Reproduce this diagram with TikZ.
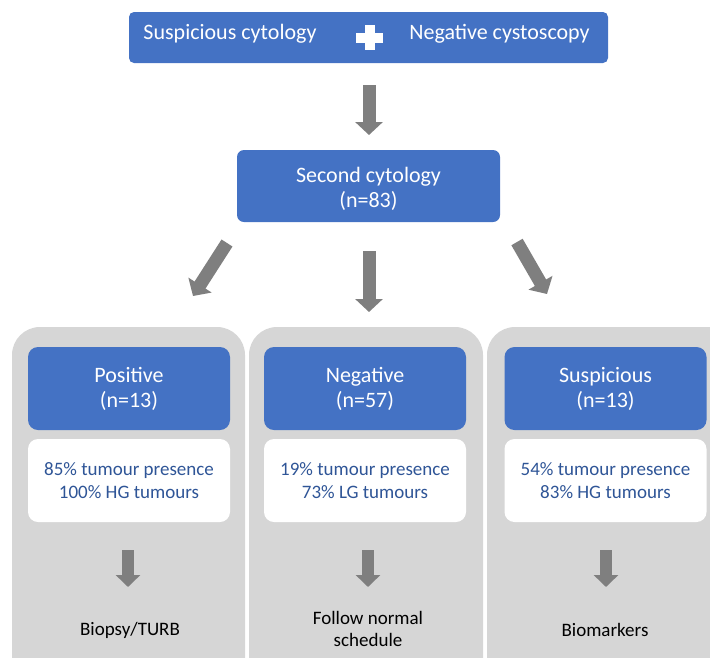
\documentclass[tikz,border=0pt]{standalone}
\usepackage{fontspec}
\setmainfont{Carlito}
\usetikzlibrary{arrows.meta}
\definecolor{boxblue}{HTML}{4472C4}
\definecolor{textblue}{HTML}{2F5597}
\definecolor{panelgray}{HTML}{D6D6D6}
\definecolor{arrowgray}{HTML}{7F7F7F}
\tikzset{
  bluebox/.style={fill=boxblue, draw=none, text=white, align=center,
    font=\fontsize{22}{25}\selectfont},
  infobox/.style={fill=white, draw=none, text=textblue, align=center,
    rounded corners=10pt, minimum width=202pt, minimum height=83pt,
    font=\fontsize{19}{23}\selectfont},
  headbox/.style={bluebox, rounded corners=10pt, minimum width=202pt, minimum height=83pt},
  panel/.style={fill=panelgray, draw=none, rounded corners=28pt},
  outcome/.style={text=black, align=center, font=\fontsize{19}{22}\selectfont},
  bigarrow/.style={draw=arrowgray, line width=13pt,
    -{Triangle[width=27pt,length=13pt,fill=arrowgray]}},
  smallarrow/.style={draw=arrowgray, line width=12pt,
    -{Triangle[width=24pt,length=12pt,fill=arrowgray]}}
}
\begin{document}
\begin{tikzpicture}[x=1pt,y=-1pt]
\useasboundingbox (0,0) rectangle (710,657);

% grey panels, running off the lower and right edges
\begin{scope}
  \clip (0,0) rectangle (710,657);
  \fill[panel] (12,327) rectangle (245,700);
  \fill[panel] (249,327) rectangle (483,700);
  \fill[panel] (487,327) rectangle (740,700);
\end{scope}

% top condition box
\node[bluebox, rounded corners=5pt, minimum width=479pt, minimum height=51pt]
  (top) at (368.5,37.5) {};
\node[text=white, font=\fontsize{22}{25}\selectfont] (tl) at (230,34) {Suspicious cytology};
\node[text=white, font=\fontsize{22}{25}\selectfont] (tr) at (499.5,34) {Negative cystoscopy};
\fill[white] (364.5,25) rectangle (374.5,50);
\fill[white] (356,32.5) rectangle (383,42.5);

% second cytology
\node[bluebox, rounded corners=7pt, minimum width=263pt, minimum height=72pt]
  (second) at (368.5,186) {};
\node[bluebox, fill=none] (secondtext) at (368.5,189) {Second cytology\\(n=83)};

% result headers
\node[headbox] (pos) at (129,388.5) {Positive\\(n=13)};
\node[headbox] (neg) at (365,388.5) {Negative\\(n=57)};
\node[headbox] (sus) at (605.5,388.5) {Suspicious\\(n=13)};

% findings
\node[infobox] (posinfo) at (129,480.5) {85\% tumour presence\\100\% HG tumours};
\node[infobox] (neginfo) at (365,480.5) {19\% tumour presence\\73\% LG tumours};
\node[infobox] (susinfo) at (605.5,480.5) {54\% tumour presence\\83\% HG tumours};

% actions
\node[outcome] (posact) at (130,630) {Biopsy/TURB};
\node[outcome] (negact) at (368,629) {Follow normal\\schedule};
\node[outcome] (susact) at (605,630) {Biomarkers};

% arrow end points
\coordinate (a0s) at (369,85);  \coordinate (a0e) at (369,135);
\coordinate (a1s) at (227,243); \coordinate (a1e) at (193,296);
\coordinate (a2s) at (369,251); \coordinate (a2e) at (369,312);
\coordinate (a3s) at (517,242); \coordinate (a3e) at (547,294);
\coordinate (b1s) at (128,550); \coordinate (b1e) at (128,587);
\coordinate (b2s) at (368,550); \coordinate (b2e) at (368,587);
\coordinate (b3s) at (606,550); \coordinate (b3e) at (606,587);

\draw[bigarrow] (a0s) -- (a0e);
\draw[bigarrow] (a1s) -- (a1e);
\draw[bigarrow] (a2s) -- (a2e);
\draw[bigarrow] (a3s) -- (a3e);
\draw[smallarrow] (b1s) -- (b1e);
\draw[smallarrow] (b2s) -- (b2e);
\draw[smallarrow] (b3s) -- (b3e);
\end{tikzpicture}
\end{document}
